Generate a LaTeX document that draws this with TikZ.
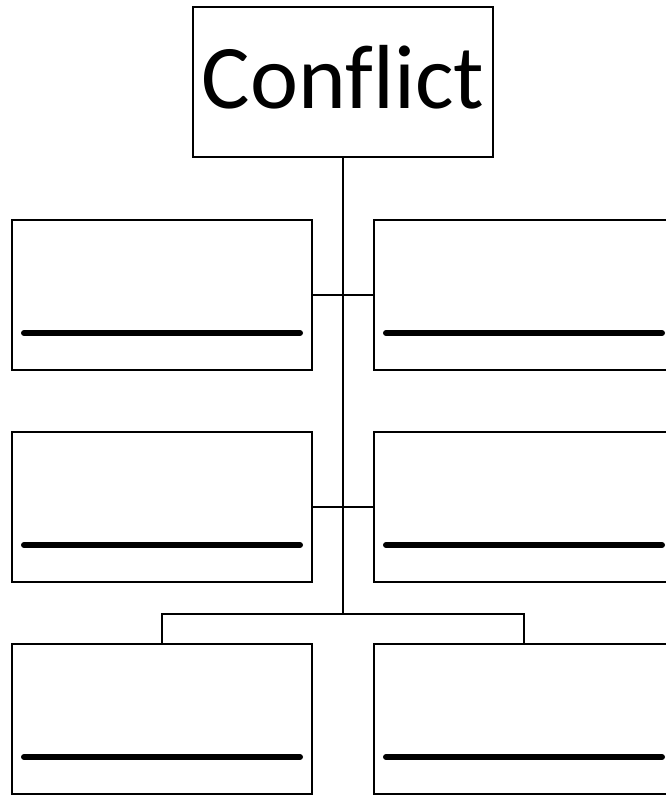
\documentclass[tikz,border=0pt]{standalone}
\usepackage{fontspec}
\setmainfont{Carlito}[Ligatures=NoCommon]
\usetikzlibrary{calc}
\begin{document}
\begin{tikzpicture}[x=1pt,y=-1pt,
  box/.style={draw,line width=2pt,minimum width=300pt,minimum height=150pt,inner sep=0pt,outer sep=0pt},
  conn/.style={line width=2.2pt},
  blank/.style={line width=6pt,line cap=round}]
\useasboundingbox (0,0) rectangle (666,796);
\clip (0,0) rectangle (666,796);
\node[box] (top) at (343,82) {};
\node[anchor=base,font=\fontsize{91}{96}\selectfont,inner sep=0pt] (title) at (343,108) {Conflict};
\node[box] (L1) at (162,295) {};
\node[box] (R1) at (524,295) {};
\node[box] (L2) at (162,507) {};
\node[box] (R2) at (524,507) {};
\node[box] (L3) at (162,719) {};
\node[box] (R3) at (524,719) {};
\coordinate (j) at (343,614);
\draw[conn] (top.south) -- (j);
\draw[conn] (L1.east) -- (R1.west);
\draw[conn] (L2.east) -- (R2.west);
\draw[conn] (L3.north) -- (L3.north |- j) -- (R3.north |- j) -- (R3.north);
\foreach \b in {L1,R1,L2,R2,L3,R3}{
  \draw[blank] ($(\b.south west)+(12,-37)$) -- ($(\b.south east)+(-12,-37)$);
}
\end{tikzpicture}
\end{document}
